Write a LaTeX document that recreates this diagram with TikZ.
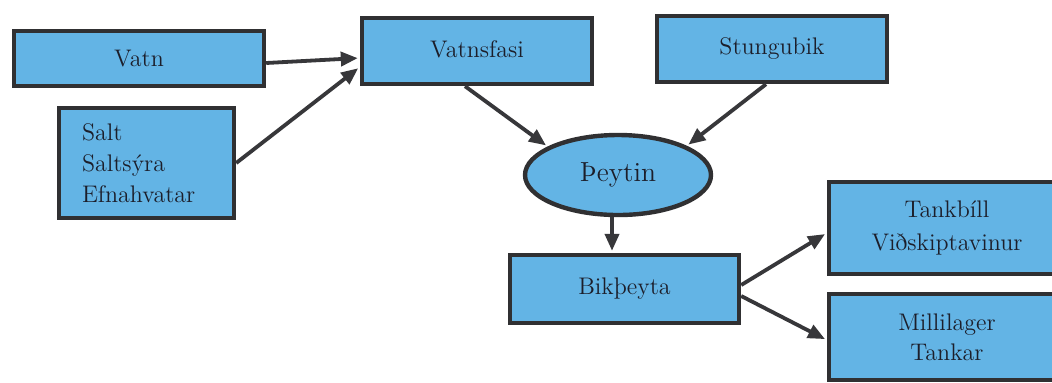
\documentclass[tikz,border=0pt]{standalone}
\usepackage{fontspec}
\usetikzlibrary{arrows.meta,shapes.geometric,calc}
\definecolor{boxfill}{RGB}{99,180,229}
\definecolor{boxline}{RGB}{48,48,50}
\definecolor{txt}{RGB}{28,30,42}
\definecolor{arrowc}{RGB}{55,55,58}
\tikzset{
  box/.style={draw=boxline, fill=boxfill, line width=2.2pt, rectangle, inner sep=0pt,
    font=\fontsize{12pt}{15.5pt}\selectfont, text=txt, align=center},
  ellbox/.style={draw=boxline, fill=boxfill, line width=2.2pt, ellipse, inner sep=0pt,
    font=\fontsize{13.8pt}{17pt}\selectfont, text=txt},
  arr/.style={draw=arrowc, line width=1.9pt, -{Triangle[length=8.5pt,width=7pt]}, shorten >=1pt}
}
\begin{document}
\begin{tikzpicture}[x=0.5pt,y=-0.5pt]
\fill[white] (0,0) rectangle (1052,382);
\clip (0,0) rectangle (1052,382);
% nodes
\node[box, minimum width=125pt, minimum height=27.5pt] (vatn) at (139,58.5) {Vatn};
\node[box, align=left, text width=64.5pt, inner xsep=11.5pt, minimum height=55pt] (salt) at (146.5,163) {Salt\\Saltsýra\\Efnahvatar};
\node[box, minimum width=115pt, minimum height=33pt] (vfasi) at (477,51) {\raisebox{2pt}{Vatnsfasi}};
\node[box, minimum width=115pt, minimum height=33pt] (stung) at (772,49) {\raisebox{2pt}{Stungubik}};
\node[ellbox, minimum width=93pt, minimum height=40pt] (ell) at (618,175) {Þeytin};
\node[box, minimum width=114.5pt, minimum height=34pt] (bik) at (624.5,289) {\raisebox{1pt}{Bikþeyta}};
\node[box, minimum width=118pt, minimum height=46pt, font=\fontsize{12pt}{16.5pt}\selectfont] (tank) at (947,228) {Tankbíll\\Viðskiptavinur};
\node[box, minimum width=118pt, minimum height=43pt, font=\fontsize{12pt}{15pt}\selectfont] (milli) at (947,337) {Millilager\\Tankar};
% connectors
\draw[arr] ([yshift=-2.25pt]vatn.east) -- ([yshift=-3.5pt]vfasi.west);
\draw[arr] (salt.east) -- ([yshift=-8pt]vfasi.west);
\draw[arr] ([xshift=-6pt]vfasi.south) -- (ell.158);
\draw[arr] ([xshift=-3pt]stung.south) -- (ell.23);
\draw[arr] ([xshift=-3pt]ell.south) -- ([xshift=-3pt]ell.south |- bik.north);
\draw[arr] ([yshift=2pt]bik.east) -- ([yshift=-2.5pt]tank.west);
\draw[arr] ([yshift=-3.5pt]bik.east) -- ([yshift=-1.5pt]milli.west);
\end{tikzpicture}
\end{document}
